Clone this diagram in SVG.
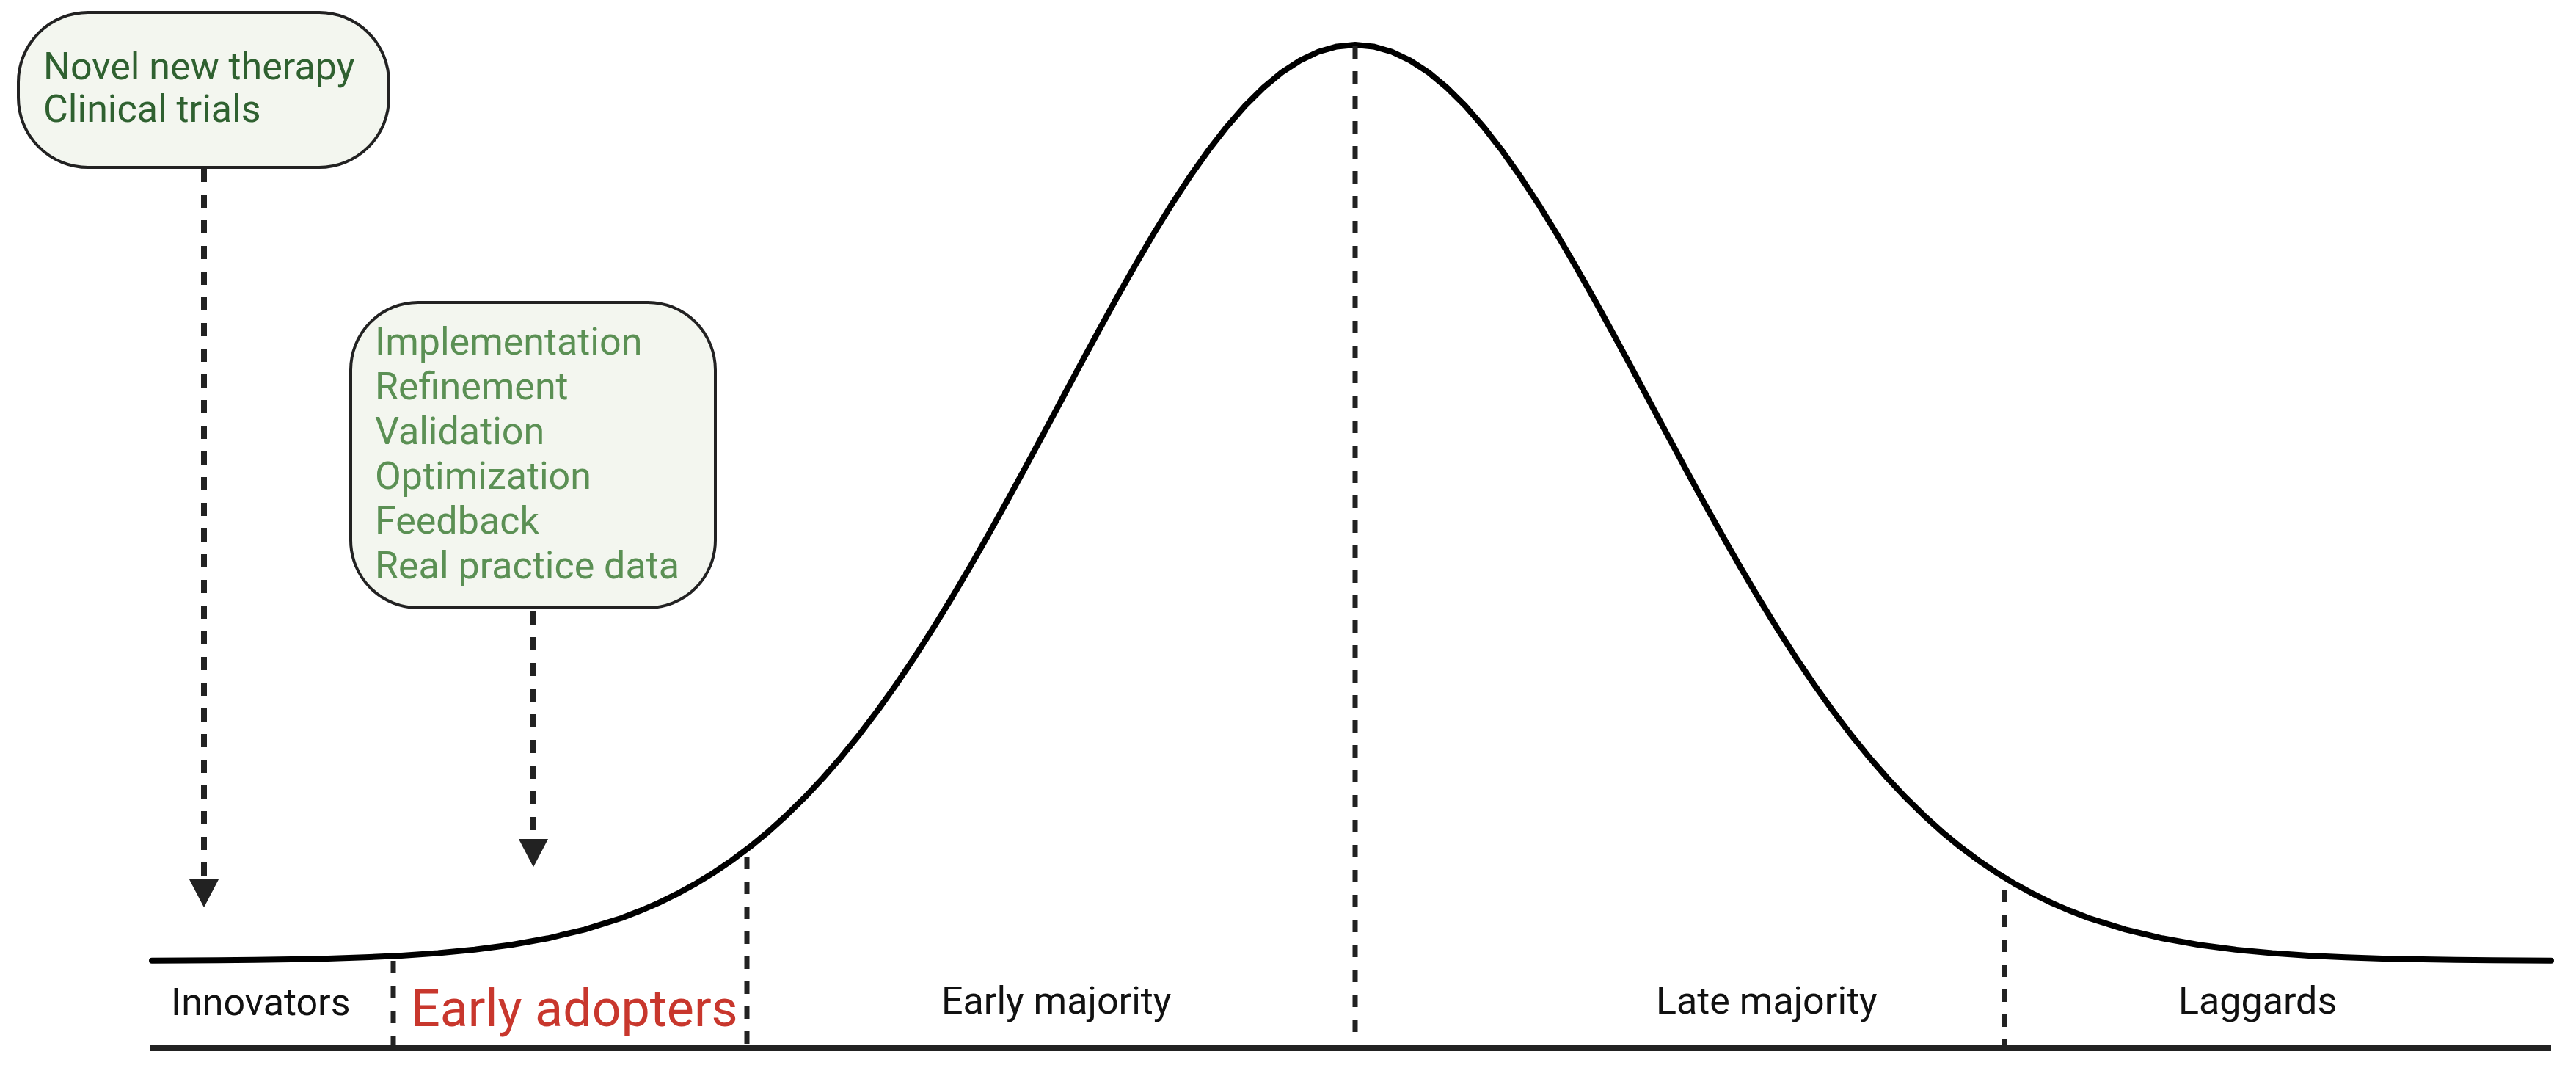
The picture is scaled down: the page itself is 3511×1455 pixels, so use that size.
<svg xmlns="http://www.w3.org/2000/svg" width="3511" height="1455" viewBox="0 0 3511 1455">
  <style>
    text { font-family: Roboto, "Liberation Sans", sans-serif; }
    .box { fill: #f3f6ef; stroke: #222; stroke-width: 4; }
    .t1 { font-size: 52px; fill: #2f6130; }
    .t2 { font-size: 52px; fill: #5b9054; }
    .lbl { font-size: 52px; fill: #111; }
    .red { font-size: 70px; fill: #c8372d; }
    .dash { stroke: #222; stroke-width: 7; stroke-dasharray: 17 17; fill: none; }
    .conn { stroke: #222; stroke-width: 8; stroke-dasharray: 18 17; fill: none; }
  </style>
  <defs>
    <marker id="ah" markerUnits="userSpaceOnUse" markerWidth="42" markerHeight="42" refX="21" refY="0" viewBox="0 -2 42 44" orient="0" overflow="visible">
      <path d="M0,0 L42,0 L21,40 Z" fill="#222"/>
    </marker>
  </defs>
  <rect width="3511" height="1455" fill="#fff"/>

  <g id="curve">
    <polyline fill="none" stroke="#000" stroke-width="8" stroke-linejoin="round" stroke-linecap="round" points="207,1308.7 297,1308.2 347,1307.7 397,1307 447,1305.9 497,1304.3 547,1302 597,1298.6 647,1293.8 697,1287.3 747,1278.3 797,1266.4 847,1250.7 872,1241.1 897,1230.4 922,1218.2 947,1204.6 972,1189.4 997,1172.5 1022,1153.8 1047,1133.3 1072,1110.7 1097,1086.2 1122,1059.5 1147,1030.8 1172,999.9 1197,966.9 1222,931.8 1247,894.7 1272,855.7 1297,814.9 1322,772.5 1347,728.7 1372,683.8 1397,637.8 1422,591.3 1447,544.5 1472,497.7 1497,451.5 1522,406 1547,361.7 1572,319 1597,278.4 1622,240.3 1647,204.9 1672,172.8 1697,144.1 1722,119.3 1747,98.6 1772,82.3 1797,70.5 1822,63.4 1847,61 1872,63.4 1897,70.5 1922,82.3 1947,98.6 1972,119.3 1997,144.1 2022,172.8 2047,204.9 2072,240.3 2097,278.4 2122,319 2147,361.7 2172,406 2197,451.5 2222,497.7 2247,544.5 2272,591.3 2297,637.8 2322,683.8 2347,728.7 2372,772.5 2397,814.9 2422,855.7 2447,894.7 2472,931.8 2497,966.9 2522,999.9 2547,1030.8 2572,1059.5 2597,1086.2 2622,1110.7 2647,1133.3 2672,1153.8 2697,1172.5 2722,1189.4 2747,1204.6 2772,1218.2 2797,1230.4 2822,1241.1 2847,1250.7 2897,1266.4 2947,1278.3 2997,1287.3 3047,1293.8 3097,1298.6 3147,1302 3197,1304.3 3247,1305.9 3297,1307 3347,1307.7 3397,1308.2 3477,1308.7"/>
  </g>

  <g id="axis">
    <line x1="205" y1="1428" x2="3477" y2="1428" stroke="#222" stroke-width="8"/>
    <line class="dash" x1="536" y1="1309" x2="536" y2="1424"/>
    <line class="dash" x1="1018" y1="1167" x2="1018" y2="1424"/>
    <line class="dash" x1="1847" y1="63" x2="1847" y2="1424"/>
    <line class="dash" x1="2732" y1="1212" x2="2732" y2="1424"/>
  </g>

  <g id="labels">
    <text class="lbl" x="233" y="1383">Innovators</text>
    <text class="red" x="560" y="1398">Early adopters</text>
    <text class="lbl" x="1283" y="1381">Early majority</text>
    <text class="lbl" x="2257" y="1381">Late majority</text>
    <text class="lbl" x="2969" y="1381">Laggards</text>
  </g>

  <g id="node-novel">
    <rect class="box" x="25" y="17" width="505" height="211" rx="95" ry="95"/>
    <text class="t1" x="59" y="108">Novel new therapy</text>
    <text class="t1" x="59" y="166">Clinical trials</text>
  </g>

  <g id="node-implementation">
    <rect class="box" x="478" y="412" width="497" height="416" rx="92" ry="92"/>
    <text class="t2" x="511" y="483">Implementation</text>
    <text class="t2" x="511" y="544">Refinement</text>
    <text class="t2" x="511" y="605">Validation</text>
    <text class="t2" x="511" y="666">Optimization</text>
    <text class="t2" x="511" y="727">Feedback</text>
    <text class="t2" x="511" y="788">Real practice data</text>
  </g>

  <g id="connectors">
    <line class="conn" x1="278" y1="230" x2="278" y2="1198" marker-end="url(#ah)"/>
    <line class="conn" x1="727" y1="833" x2="727" y2="1143" marker-end="url(#ah)"/>
  </g>
</svg>
